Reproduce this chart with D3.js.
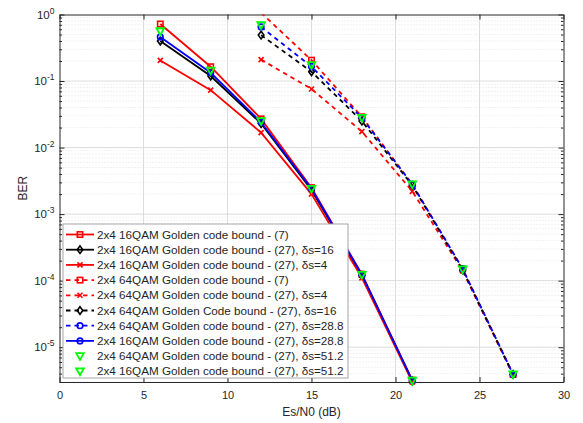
<!DOCTYPE html>
<html><head><meta charset="utf-8">
<script src="https://cdn.jsdelivr.net/npm/d3@7/dist/d3.min.js"></script>
<style>body{margin:0;background:#fff}svg{display:block}text{font-family:"Liberation Sans",Arial,Helvetica,sans-serif;fill:#262626}</style>
</head><body><svg id="c" width="583" height="423"></svg>
<script>
const snr16 = [6, 9, 12, 15, 18, 21];
const snr64 = [12, 15, 18, 21, 24, 27];
const s16_7   = [0.72, 0.164, 0.027, 0.0025, 1.25e-4, 3.2e-6];
const s16_d16 = [0.40, 0.119, 0.023, 0.0023, 1.2e-4, 3.1e-6];
const s16_d4  = [0.204, 0.073, 0.0168, 0.0020, 1.1e-4, 3.0e-6];
const s64_7   = [1.06, 0.206, 0.029, 0.0028, 1.5e-4, 3.9e-6];
const s64_d4  = [0.21, 0.076, 0.0174, 0.0022, 1.4e-4, 3.8e-6];
const s64_d16 = [0.49, 0.138, 0.025, 0.0027, 1.45e-4, 3.9e-6];
const s64_d28 = [0.65, 0.165, 0.028, 0.0028, 1.5e-4, 3.9e-6];
const s16_d28 = [0.46, 0.133, 0.024, 0.0024, 1.22e-4, 3.15e-6];
const s64_d51 = [0.69, 0.174, 0.028, 0.0028, 1.48e-4, 3.9e-6];
const s16_d51 = [0.56, 0.143, 0.025, 0.0024, 1.22e-4, 3.15e-6];
const xTicks = [0, 5, 10, 15, 20, 25, 30];
const yTickExp = [0, -1, -2, -3, -4, -5];
const labels = [
 "2x4 16QAM Golden code bound - (7)",
 "2x4 16QAM Golden code bound - (27), δs=16",
 "2x4 16QAM Golden code bound - (27), δs=4",
 "2x4 64QAM Golden code bound - (7)",
 "2x4 64QAM Golden code bound - (27), δs=4",
 "2x4 64QAM Golden Code bound - (27), δs=16",
 "2x4 64QAM Golden code bound - (27), δs=28.8",
 "2x4 16QAM Golden code bound - (27), δs=28.8",
 "2x4 64QAM Golden code bound - (27), δs=51.2",
 "2x4 16QAM Golden code bound - (27), δs=51.2"
];

const series = [
 {x: snr16, y: s16_7,   color: "#ff0000", dash: null, marker: "square", line: true},
 {x: snr16, y: s16_d16, color: "#000000", dash: null, marker: "diamond", line: true},
 {x: snr16, y: s16_d4,  color: "#ff0000", dash: null, marker: "x", line: true},
 {x: snr64, y: s64_7,   color: "#ff0000", dash: "4.5,4", marker: "square", line: true},
 {x: snr64, y: s64_d4,  color: "#ff0000", dash: "4.5,4", marker: "x", line: true},
 {x: snr64, y: s64_d16, color: "#000000", dash: "4.5,4", marker: "diamond", line: true},
 {x: snr64, y: s64_d28, color: "#0000ff", dash: "4.5,4", marker: "circle", line: true},
 {x: snr16, y: s16_d28, color: "#0000ff", dash: null, marker: "circle", line: true},
 {x: snr64, y: s64_d51, color: "#00ff00", dash: null, marker: "tri", line: false},
 {x: snr16, y: s16_d51, color: "#00ff00", dash: null, marker: "tri", line: false}
];

const L = 59.5, R = 563.5, T = 14.5, B = 382;
const yMin = 3e-6;
const x = d3.scaleLinear().domain([0, 30]).range([L, R]);
const y = d3.scaleLog().domain([yMin, 1]).range([B, T]);
const svg = d3.select("#c");

// grid
const g = svg.append("g");
const minorY = [];
for (let e = -6; e < 0; e++) for (let m = 2; m <= 9; m++) { const v = m * Math.pow(10, e); if (v >= yMin && v < 1) minorY.push(v); }
g.selectAll(".mg").data(minorY).enter().append("line")
 .attr("x1", L).attr("x2", R).attr("y1", d => y(d)).attr("y2", d => y(d))
 .attr("stroke", "#e3e3e3").attr("stroke-width", 1).attr("stroke-dasharray", "1,2");
g.selectAll(".gx").data(xTicks.slice(1, -1)).enter().append("line")
 .attr("x1", d => x(d)).attr("x2", d => x(d)).attr("y1", T).attr("y2", B)
 .attr("stroke", "#dcdcdc").attr("stroke-width", 1);
g.selectAll(".gy").data(yTickExp.slice(1)).enter().append("line")
 .attr("x1", L).attr("x2", R).attr("y1", d => y(Math.pow(10, d))).attr("y2", d => y(Math.pow(10, d)))
 .attr("stroke", "#dcdcdc").attr("stroke-width", 1);

// axes via d3
const xAxB = d3.axisBottom(x).tickValues(xTicks).tickSizeInner(-5).tickSizeOuter(0).tickPadding(9);
const xAxT = d3.axisTop(x).tickValues(xTicks).tickSizeInner(-5).tickSizeOuter(0).tickFormat("");
const yAxL = d3.axisLeft(y).tickValues(yTickExp.map(e => Math.pow(10, e))).tickSizeInner(-5).tickSizeOuter(0).tickFormat("");
const yAxR = d3.axisRight(y).tickValues(yTickExp.map(e => Math.pow(10, e))).tickSizeInner(-5).tickSizeOuter(0).tickFormat("");
const yMinL = d3.axisLeft(y).tickValues(minorY).tickSizeInner(-2.5).tickSizeOuter(0).tickFormat("");
const yMinR = d3.axisRight(y).tickValues(minorY).tickSizeInner(-2.5).tickSizeOuter(0).tickFormat("");
function styleAx(sel) { sel.selectAll("path").attr("stroke", "#262626"); sel.selectAll("line").attr("stroke", "#262626"); sel.selectAll("text").attr("fill", "#262626").style("font-size", "11px").style("font-family", "Liberation Sans, Arial, sans-serif"); }
const gxB = svg.append("g").attr("transform", `translate(0,${B})`).call(xAxB); styleAx(gxB);
const gxT = svg.append("g").attr("transform", `translate(0,${T})`).call(xAxT); styleAx(gxT);
const gyL = svg.append("g").attr("transform", `translate(${L},0)`).call(yAxL); styleAx(gyL);
const gyR = svg.append("g").attr("transform", `translate(${R},0)`).call(yAxR); styleAx(gyR);
const gmL = svg.append("g").attr("transform", `translate(${L},0)`).call(yMinL); styleAx(gmL); gmL.select("path").remove();
const gmR = svg.append("g").attr("transform", `translate(${R},0)`).call(yMinR); styleAx(gmR); gmR.select("path").remove();
gxB.selectAll("text").style("font-size", "11px");

// y tick labels with superscript
yTickExp.forEach(e => {
  const t = svg.append("text").attr("x", L - 5).attr("y", y(Math.pow(10, e)) + 4).attr("text-anchor", "end").style("font-size", "11.5px");
  t.append("tspan").text("10");
  t.append("tspan").attr("dy", -5).style("font-size", "8.5px").text(String(e));
});

svg.append("text").attr("x", (L + R) / 2).attr("y", 416).attr("text-anchor", "middle").style("font-size", "12px").text("Es/N0 (dB)");
svg.append("text").attr("transform", `translate(27,${(T + B) / 2 - 10}) rotate(-90)`).attr("text-anchor", "middle").style("font-size", "12px").text("BER");

// clip
svg.append("clipPath").attr("id", "clp").append("rect").attr("x", L).attr("y", T).attr("width", R - L).attr("height", B - T);

function drawMarker(sel, type, cx, cy, color) {
  if (type === "square") sel.append("rect").attr("x", cx - 2.7).attr("y", cy - 2.7).attr("width", 5.4).attr("height", 5.4).attr("fill", "none").attr("stroke", color).attr("stroke-width", 1.6);
  else if (type === "diamond") sel.append("path").attr("d", `M${cx},${cy - 3.8}L${cx + 2.8},${cy}L${cx},${cy + 3.8}L${cx - 2.8},${cy}Z`).attr("fill", "none").attr("stroke", color).attr("stroke-width", 1.6);
  else if (type === "circle") sel.append("circle").attr("cx", cx).attr("cy", cy).attr("r", 2.8).attr("fill", "none").attr("stroke", color).attr("stroke-width", 1.6);
  else if (type === "x") sel.append("path").attr("d", `M${cx - 2.5},${cy - 2.5}L${cx + 2.5},${cy + 2.5}M${cx - 2.5},${cy + 2.5}L${cx + 2.5},${cy - 2.5}`).attr("stroke", color).attr("stroke-width", 1.6);
  else if (type === "tri") sel.append("path").attr("d", `M${cx - 3.8},${cy - 3}L${cx + 3.8},${cy - 3}L${cx},${cy + 3.8}Z`).attr("fill", "none").attr("stroke", color).attr("stroke-width", 1.8);
}

const line = d3.line().x(d => x(d[0])).y(d => y(d[1]));
const dataG = svg.append("g");
series.forEach(s => {
  const pts = s.x.map((v, i) => [v, s.y[i]]);
  if (s.line) dataG.append("path").attr("d", line(pts)).attr("clip-path", "url(#clp)").attr("fill", "none").attr("stroke", s.color).attr("stroke-width", 1.8).attr("stroke-dasharray", s.dash);
  const mg = dataG.append("g");
  pts.forEach(p => { if (p[1] <= 1 && p[1] >= yMin) drawMarker(mg, s.marker, x(p[0]), y(p[1]), s.color); });
});

// legend
const lg = svg.append("g");
const lx = 63, ly = 224, lw = 285, lh = 154;
lg.append("rect").attr("x", lx).attr("y", ly).attr("width", lw).attr("height", lh).attr("fill", "#fff").attr("stroke", "#a6a6a6").attr("stroke-width", 1);
series.forEach((s, i) => {
  const cy = 234.5 + i * 15.2;
  if (s.line) lg.append("line").attr("x1", 66).attr("x2", 94).attr("y1", cy).attr("y2", cy).attr("stroke", s.color).attr("stroke-width", 1.8).attr("stroke-dasharray", s.dash);
  drawMarker(lg, s.marker, 80, cy, s.color);
  lg.append("text").attr("x", 97).attr("y", cy + 4).style("font-size", "11.7px").text(labels[i]);
});
</script></body></html>
